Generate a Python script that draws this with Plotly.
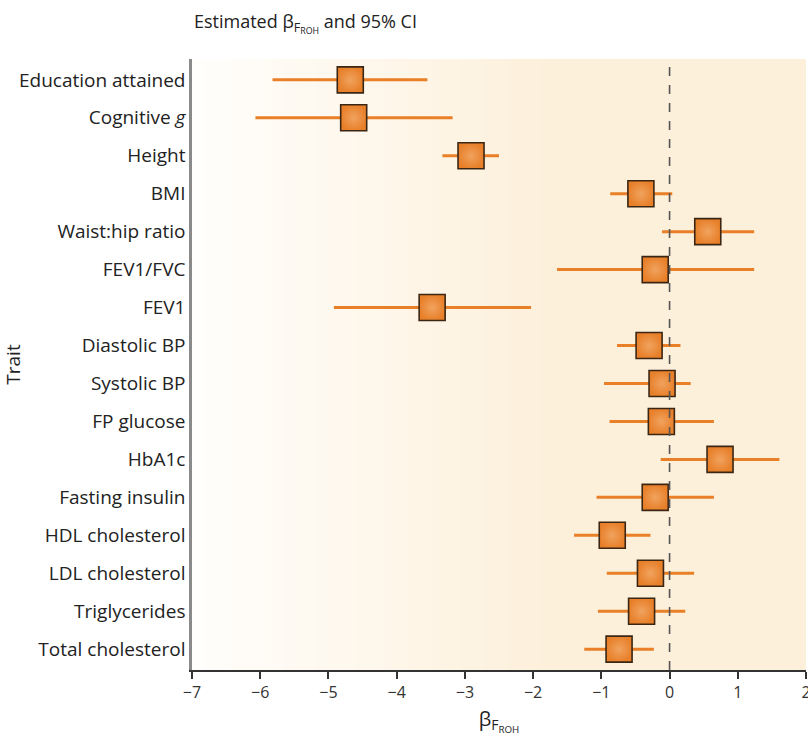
import numpy as np
import plotly.graph_objects as go

# Traits, top to bottom
traits = [
    "Education attained", "Cognitive <i>g</i>", "Height", "BMI", "Waist:hip ratio",
    "FEV1/FVC", "FEV1", "Diastolic BP", "Systolic BP", "FP glucose", "HbA1c",
    "Fasting insulin", "HDL cholesterol", "LDL cholesterol", "Triglycerides",
    "Total cholesterol",
]
# Estimated effect of F_ROH and 95% confidence limits
beta = [-4.68, -4.63, -2.91, -0.42, 0.56, -0.21, -3.48, -0.30, -0.11, -0.12,
        0.74, -0.21, -0.84, -0.28, -0.41, -0.74]
ci_low = [-5.82, -6.07, -3.33, -0.87, -0.11, -1.65, -4.92, -0.77, -0.96, -0.88,
          -0.13, -1.07, -1.40, -0.92, -1.05, -1.25]
ci_high = [-3.55, -3.18, -2.50, 0.04, 1.24, 1.24, -2.03, 0.16, 0.31, 0.65,
           1.61, 0.65, -0.28, 0.36, 0.23, -0.23]
x_ticks = [-7, -6, -5, -4, -3, -2, -1, 0, 1, 2]

rows = list(range(len(traits)))
err_plus = [h - b for h, b in zip(ci_high, beta)]
err_minus = [b - l for b, l in zip(beta, ci_low)]

FONT = "Open Sans"
ORANGE = "#E97F27"

fig = go.Figure()

# soft white-to-cream wash behind the plot
bg_x = np.linspace(-7, 2, 181)
bg_z = np.clip((bg_x + 7) / 5.2, 0, 1)
fig.add_trace(go.Heatmap(
    x=bg_x, y=[-1, 17], z=[bg_z, bg_z],
    colorscale=[[0, "#FFFEFC"], [1, "#FDF0DB"]],
    showscale=False, hoverinfo="skip", zsmooth="best",
))

# confidence intervals
fig.add_trace(go.Scatter(
    x=beta, y=rows, mode="markers",
    marker=dict(size=1, color="rgba(0,0,0,0)"),
    error_x=dict(type="data", symmetric=False, array=err_plus,
                 arrayminus=err_minus, color=ORANGE, thickness=3, width=0),
    hoverinfo="skip", showlegend=False,
))

# point estimates
fig.add_trace(go.Scatter(
    x=beta, y=rows, mode="markers",
    marker=dict(symbol="square", size=26, color="#E8802A",
                gradient=dict(type="radial", color="#F0A35F"),
                line=dict(color="#3B2614", width=1.6)),
    showlegend=False,
))

# reference line at zero
fig.add_vline(x=0, line=dict(color="#555555", width=1.6, dash="dash"))

fig.update_layout(
    width=808, height=740,
    margin=dict(l=192, r=2, t=59, b=70),
    paper_bgcolor="white", plot_bgcolor="white",
    font=dict(family=FONT, size=16, color="#222222"),
    showlegend=False,
    xaxis=dict(
        range=[-7, 2], tickvals=x_ticks, showgrid=False, zeroline=False,
        showline=True, linecolor="#333333", linewidth=1.5,
        ticks="outside", ticklen=7, tickcolor="#333333", tickwidth=1.5,
        tickfont=dict(size=16, color="#333333"), ticklabeloverflow="allow",
        automargin=False,
        title=dict(text="β<sub>F<sub>ROH</sub></sub>", font=dict(size=20), standoff=10),
    ),
    yaxis=dict(
        range=[15.55, -0.55], tickvals=rows, ticktext=traits,
        showgrid=False, zeroline=False, automargin=False,
        showline=True, linecolor="#8A8A8A", linewidth=2.5,
        ticks="", tickfont=dict(size=19, color="#222222"),
        title=dict(text="Trait", font=dict(size=19), standoff=2),
    ),
    annotations=[dict(
        text="Estimated β<sub>F<sub>ROH</sub></sub> and 95% CI",
        xref="paper", yref="paper", x=0, y=1, xanchor="left", yanchor="bottom",
        yshift=20, showarrow=False, font=dict(size=18, color="#222222"),
    )],
)

fig.write_html("out.html")
